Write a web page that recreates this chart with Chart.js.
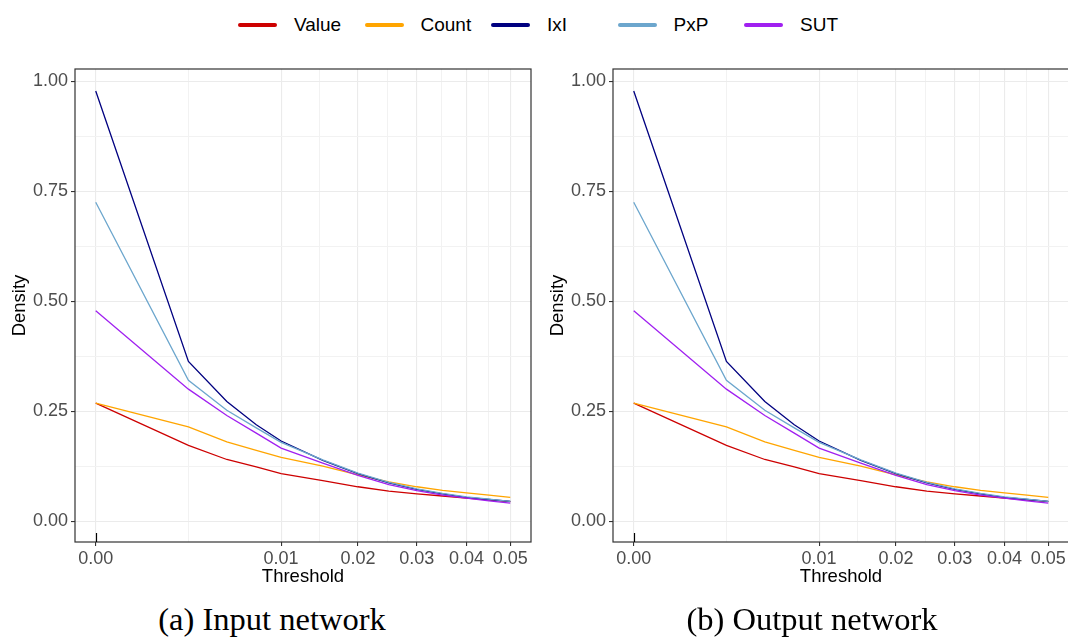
<!DOCTYPE html>
<html>
<head>
<meta charset="utf-8">
<script src="https://cdn.jsdelivr.net/npm/chart.js@4.4.1/dist/chart.umd.min.js"></script>
<style>
  html, body { margin: 0; padding: 0; background: #fff; overflow: hidden; width: 1068px; height: 637px; }
  #page { position: relative; width: 1068px; height: 637px; overflow: hidden; }
  canvas { position: absolute; top: 0; }
  #legend { position: absolute; top: 12px; left: 238px; height: 26px; display: flex; align-items: center;
            font-family: "Liberation Sans", Arial, sans-serif; font-size: 19px; color: #000; }
  .item { width: 126.5px; display: flex; align-items: center; }
  .swatch { width: 39px; height: 4px; border-radius: 2px; margin-right: 17px; }
  .caption { position: absolute; top: 601px; width: 400px; text-align: center;
             font-family: "Liberation Serif", "DejaVu Serif", serif; font-size: 32.5px; color: #000; }
</style>
</head>
<body>
<div id="page">
  <div id="legend"></div>
  <canvas id="inputChart" width="545" height="600" style="left:0px"></canvas>
  <canvas id="outputChart" width="545" height="600" style="left:538px"></canvas>
  <div class="caption" style="left:72px">(a) Input network</div>
  <div class="caption" style="left:612px">(b) Output network</div>
</div>
<script>
/* ─── Data ─── */
const thresholds = [0, 0.0025, 0.005, 0.0075, 0.01, 0.015, 0.02, 0.025, 0.03, 0.035, 0.04, 0.045, 0.05];
const valueDensity = [0.268, 0.172, 0.140, 0.123, 0.108, 0.092, 0.078, 0.068, 0.062, 0.057, 0.052, 0.048, 0.044];
const countDensity = [0.268, 0.214, 0.180, 0.161, 0.145, 0.125, 0.105, 0.089, 0.078, 0.070, 0.064, 0.059, 0.054];
const ixiDensity   = [0.978, 0.363, 0.272, 0.219, 0.182, 0.138, 0.108, 0.087, 0.072, 0.062, 0.054, 0.049, 0.045];
const pxpDensity   = [0.725, 0.320, 0.252, 0.212, 0.179, 0.139, 0.109, 0.088, 0.073, 0.063, 0.055, 0.050, 0.045];
const sutDensity   = [0.478, 0.300, 0.240, 0.200, 0.166, 0.132, 0.104, 0.083, 0.069, 0.059, 0.052, 0.046, 0.041];

const seriesNames  = ["Value", "Count", "IxI", "PxP", "SUT"];
const seriesColors = ["#CD0000", "#FFA500", "#000080", "#6CA6CD", "#A020F0"];
const seriesData   = [valueDensity, countDensity, ixiDensity, pxpDensity, sutDensity];

const xMajorTicks = [0, 0.01, 0.02, 0.03, 0.04, 0.05];
const yMajorTicks = [0, 0.25, 0.5, 0.75, 1];

/* ─── Helpers ─── */
// the x axis is square-root scaled: positions are sqrt(threshold)
const sq = t => Math.sqrt(t);
const xMajorPos = xMajorTicks.map(sq);
const xMinorPos = xMajorPos.slice(1).map((p, i) => (p + xMajorPos[i]) / 2);
const yMinorPos = yMajorTicks.slice(1).map((p, i) => (p + yMajorTicks[i]) / 2);
const isMajor = (list, v) => list.some(m => Math.abs(m - v) < 1e-9);

const xRange = xMajorPos[xMajorPos.length - 1];
const yLo = 0.0013, yHi = 0.979;   // data span used for ggplot-style 5% expansion

/* ─── Legend ─── */
(function buildLegend() {
  const el = document.getElementById("legend");
  el.innerHTML = seriesNames.map((n, i) =>
    `<div class="item"><span class="swatch" style="background:${seriesColors[i]}"></span>${n}</div>`).join("");
})();

/* ─── Panel border + rug mark ─── */
const panelBox = {
  id: "panelBox",
  afterDatasetsDraw(chart) {
    const { ctx, chartArea: a, scales } = chart;
    ctx.save();
    ctx.strokeStyle = "#333333";
    ctx.lineWidth = 1.2;
    ctx.strokeRect(a.left, a.top, a.right - a.left, a.bottom - a.top);
    const x0 = Math.round(scales.x.getPixelForValue(sq(thresholds[0]))) + 0.5;
    ctx.strokeStyle = "#000";
    ctx.beginPath();
    ctx.moveTo(x0, a.bottom - 9);
    ctx.lineTo(x0, a.bottom);
    ctx.stroke();
    ctx.restore();
  }
};

function makeChart(canvasId) {
  const tickFont  = { family: "'Liberation Sans', Arial, sans-serif", size: 18 };
  const titleFont = { family: "'Liberation Sans', Arial, sans-serif", size: 18.5 };

  return new Chart(document.getElementById(canvasId), {
    type: "line",
    data: {
      datasets: seriesNames.map((name, i) => ({
        label: name,
        data: thresholds.map((t, j) => ({ x: sq(t), y: seriesData[i][j] })),
        borderColor: seriesColors[i],
        borderWidth: 1.3,
        pointRadius: 0,
        tension: 0,
        fill: false,
        order: seriesNames.length - i,
      })),
    },
    options: {
      responsive: false,
      animation: false,
      events: [],
      layout: { padding: { top: 69, right: 14, bottom: 0, left: 0 } },
      plugins: { legend: { display: false }, tooltip: { enabled: false } },
      scales: {
        x: {
          type: "linear",
          min: -0.05 * xRange,
          max: 1.05 * xRange,
          afterBuildTicks: s => { s.ticks = [...xMajorPos, ...xMinorPos].sort((a, b) => a - b).map(v => ({ value: v })); },
          afterFit: s => { s.height = 58; },
          ticks: {
            autoSkip: false, maxRotation: 0, padding: 2,
            color: "#4D4D4D", font: tickFont,
            callback: v => isMajor(xMajorPos, v) ? (v * v).toFixed(2) : "",
          },
          grid: {
            color: c => isMajor(xMajorPos, c.tick.value) ? "#EBEBEB" : "#F2F2F2",
            lineWidth: c => isMajor(xMajorPos, c.tick.value) ? 1.1 : 1,
            tickColor: c => isMajor(xMajorPos, c.tick.value) ? "#333333" : "rgba(0,0,0,0)",
            tickLength: 4,
          },
          border: { display: false },
          title: {
            display: true, text: "Threshold", color: "#000", font: titleFont,
            padding: { top: 0, bottom: 12 },
          },
        },
        y: {
          type: "linear",
          min: yLo - 0.05 * (yHi - yLo),
          max: yHi + 0.05 * (yHi - yLo),
          afterBuildTicks: s => { s.ticks = [...yMajorTicks, ...yMinorPos].sort((a, b) => a - b).map(v => ({ value: v })); },
          afterFit: s => { s.width = 75; },
          ticks: {
            autoSkip: false, padding: 3,
            color: "#4D4D4D", font: tickFont,
            callback: v => isMajor(yMajorTicks, v) ? v.toFixed(2) : "",
          },
          grid: {
            color: c => isMajor(yMajorTicks, c.tick.value) ? "#EBEBEB" : "#F2F2F2",
            lineWidth: c => isMajor(yMajorTicks, c.tick.value) ? 1.1 : 1,
            tickColor: c => isMajor(yMajorTicks, c.tick.value) ? "#333333" : "rgba(0,0,0,0)",
            tickLength: 4,
          },
          border: { display: false },
          title: {
            display: true, text: "Density", color: "#000", font: titleFont,
            padding: { top: 9, bottom: 0 },
          },
        },
      },
    },
    plugins: [panelBox],
  });
}

/* ─── Boot ─── */
makeChart("inputChart");
makeChart("outputChart");
</script>
</body>
</html>
